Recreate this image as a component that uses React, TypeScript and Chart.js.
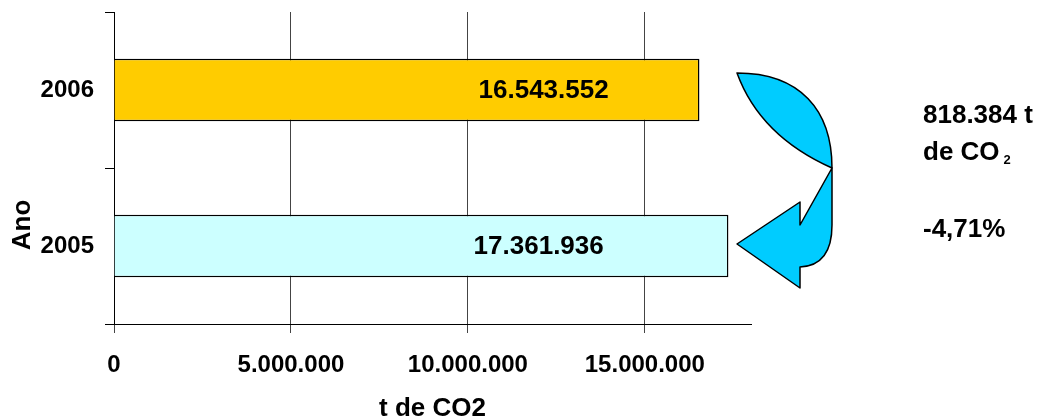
import React, { useEffect, useRef } from 'react';
import { Chart, registerables } from 'chart.js';

Chart.register(...registerables);

const categories = ['2006', '2005'];
const emissions = [16543552, 17361936];
const barColors = ['#FFCC00', '#CCFFFF'];
const xTickValues = [0, 5000000, 10000000, 15000000];
const xMin = 0;
const xMax = 18000000;
const xStep = 5000000;
const xTitle = 't de CO2';
const yTitle = 'Ano';
const changeTonnesLine1 = '818.384 t';
const changeTonnesLine2 = 'de CO';
const changeTonnesSub = '2';
const changePercent = '-4,71%';

const FONT = "'Liberation Sans', Arial, Helvetica, sans-serif";

function fmt(v: number): string {
  return String(Math.round(v)).replace(/\B(?=(\d{3})+(?!\d))/g, '.');
}

const overlayPlugin = {
  id: 'overlay',
  afterDatasetsDraw(chart: any) {
    const ctx = chart.ctx;
    const xs = chart.scales.x;
    const meta = chart.getDatasetMeta(0);
    ctx.save();
    // value labels inside bars
    ctx.fillStyle = '#000';
    ctx.font = `bold 26px ${FONT}`;
    ctx.textAlign = 'center';
    ctx.textBaseline = 'middle';
    const labelAt = [12140000, 12000000];
    meta.data.forEach((bar: any, i: number) => {
      ctx.fillText(fmt(emissions[i]), xs.getPixelForValue(labelAt[i]), bar.y + 1);
    });

    // y-axis title
    ctx.save();
    ctx.translate(22, 225);
    ctx.rotate(-Math.PI / 2);
    ctx.font = `bold 26px ${FONT}`;
    ctx.textAlign = 'center';
    ctx.textBaseline = 'middle';
    ctx.fillText(yTitle, 0, 1);
    ctx.restore();

    // curved arrow
    ctx.fillStyle = '#00CCFF';
    ctx.strokeStyle = '#000';
    ctx.lineWidth = 1.5;
    ctx.lineJoin = 'round';
    ctx.beginPath();
    ctx.moveTo(737, 73);
    ctx.bezierCurveTo(800, 73, 832, 110, 832, 168);
    ctx.quadraticCurveTo(760, 136, 737, 73);
    ctx.closePath();
    ctx.fill();
    ctx.stroke();

    ctx.beginPath();
    ctx.moveTo(832, 168);
    ctx.lineTo(832, 225);
    ctx.bezierCurveTo(832, 252, 822, 266, 800, 267);
    ctx.lineTo(800, 288);
    ctx.lineTo(737, 244);
    ctx.lineTo(800, 202);
    ctx.lineTo(800, 225);
    ctx.lineTo(832, 168);
    ctx.closePath();
    ctx.fill();
    ctx.stroke();

    // annotation text
    ctx.fillStyle = '#000';
    ctx.textAlign = 'left';
    ctx.textBaseline = 'alphabetic';
    ctx.font = `bold 26px ${FONT}`;
    ctx.fillText(changeTonnesLine1, 923, 123);
    ctx.fillText(changeTonnesLine2, 923, 160);
    const w = ctx.measureText(changeTonnesLine2).width;
    ctx.font = `bold 13px ${FONT}`;
    ctx.fillText(changeTonnesSub, 923 + w + 4, 164);
    ctx.font = `bold 26px ${FONT}`;
    ctx.fillText(changePercent, 923, 237);
    ctx.restore();
  },
};

export default function App() {
  const ref = useRef<HTMLCanvasElement | null>(null);
  useEffect(() => {
    document.body.style.margin = '0';
    const canvas = ref.current;
    if (!canvas) return;
    const chart = new Chart(canvas, {
      type: 'bar',
      data: {
        labels: categories,
        datasets: [
          {
            data: emissions,
            backgroundColor: barColors,
            borderColor: '#000',
            borderWidth: 1.5,
            categoryPercentage: 1,
            barPercentage: 0.4,
          },
        ],
      },
      options: {
        indexAxis: 'y',
        animation: false,
        responsive: false,
        layout: { padding: { top: 12, right: 293, left: 0, bottom: 0 } },
        plugins: { legend: { display: false }, tooltip: { enabled: false } },
        scales: {
          x: {
            type: 'linear',
            min: xMin,
            max: xMax,
            afterBuildTicks: (s: any) => {
              s.ticks = xTickValues.map((v) => ({ value: v }));
            },
            afterFit: (s: any) => {
              s.height = 95;
              s.paddingLeft = 0;
              s.paddingRight = 0;
            },
            ticks: {
              stepSize: xStep,
              color: '#000',
              font: { family: FONT, size: 24, weight: 'bold' },
              padding: 18,
              maxRotation: 0,
              callback: (v: any) => fmt(Number(v)),
            },
            grid: { color: '#444', lineWidth: 1, tickLength: 9 },
            border: { color: '#000', width: 1 },
            title: {
              display: true,
              text: xTitle,
              color: '#000',
              font: { family: FONT, size: 26, weight: 'bold', lineHeight: 1 },
              padding: { top: 0, bottom: -3 },
            },
          },
          y: {
            type: 'category',
            offset: true,
            afterFit: (s: any) => {
              s.width = 114;
              s.paddingTop = 0;
              s.paddingBottom = 0;
            },
            ticks: {
              color: '#000',
              font: { family: FONT, size: 24, weight: 'bold' },
              padding: 11,
            },
            grid: {
              offset: true,
              drawOnChartArea: false,
              drawTicks: true,
              tickLength: 9,
              color: '#000',
            },
            border: { color: '#000', width: 1 },
          },
        },
      },
      plugins: [overlayPlugin],
    });
    return () => chart.destroy();
  }, []);
  return (
    <div style={{ position: 'fixed', left: 0, top: 0, width: 1044, height: 419 }}>
      <canvas ref={ref} width={1044} height={419} />
    </div>
  );
}
